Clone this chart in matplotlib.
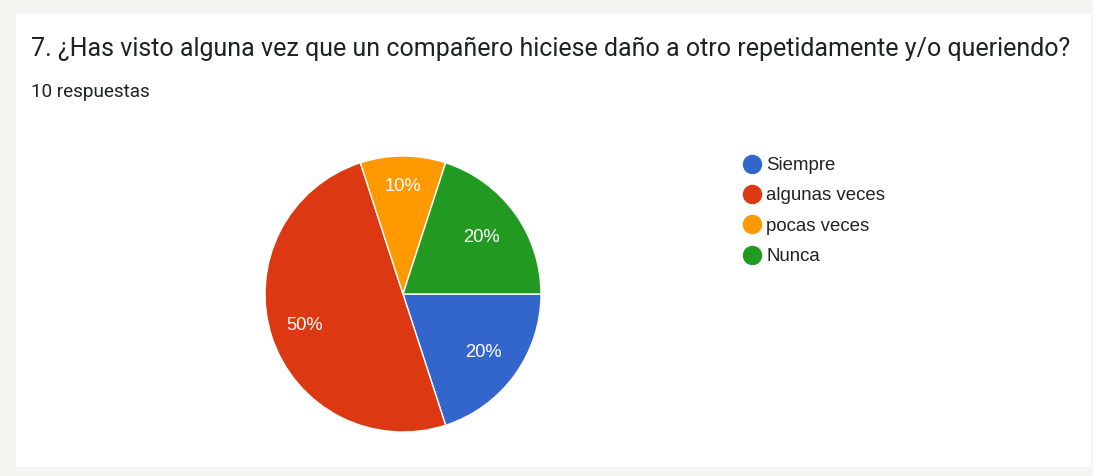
import matplotlib
matplotlib.use("Agg")
import matplotlib.pyplot as plt
from matplotlib.patches import Rectangle
from matplotlib.lines import Line2D
import numpy as np

title = "7. ¿Has visto alguna vez que un compañero hiciese daño a otro repetidamente y/o queriendo?"
subtitle = "10 respuestas"
categories = ["Siempre", "algunas veces", "pocas veces", "Nunca"]
values = [2, 5, 1, 2]
colors = ["#3366CC", "#DC3912", "#FF9900", "#229A22"]
label_dist = [0.72, 0.75, 0.78, 0.70]

W, H = 1093, 476
fig = plt.figure(figsize=(W / 100, H / 100), dpi=100)
fig.patch.set_facecolor("#F5F4F0")

# white card
card = Rectangle((16 / W, 1 - 467 / H), (1091 - 16) / W, (467 - 14) / H,
                 transform=fig.transFigure, facecolor="white", edgecolor="none", zorder=-5)
fig.patches.append(card)

fig.text(31 / W, 1 - 49 / H, title, fontsize=18.0, family=["Roboto", "DejaVu Sans"],
         color="#202124", va="center", ha="left")
fig.text(31 / W, 1 - 92 / H, subtitle, fontsize=13.6, family=["Roboto", "DejaVu Sans"],
         color="#202124", va="center", ha="left")

cx, cy, r = 403, 294, 138
ax = fig.add_axes([(cx - r) / W, 1 - (cy + r) / H, 2 * r / W, 2 * r / H])
ax.set_zorder(3)
wedges, texts, autotexts = ax.pie(
    values, colors=colors, startangle=0, counterclock=False,
    autopct=lambda p: f"{p:.0f}%", pctdistance=0.72, radius=1.0,
    wedgeprops=dict(edgecolor="white", linewidth=1.0),
    textprops=dict(color="white", fontsize=13.2, family=["Liberation Sans", "DejaVu Sans"]),
)
for w, t, d in zip(wedges, autotexts, label_dist):
    mid = np.deg2rad((w.theta1 + w.theta2) / 2)
    t.set_position((d * np.cos(mid), d * np.sin(mid)))
    t.set_ha("center"); t.set_va("center")
ax.set_xlim(-1, 1); ax.set_ylim(-1, 1)
ax.set_aspect("equal")
ax.axis("off")

handles = [Line2D([0], [0], marker="o", linestyle="none", markersize=13,
                  markerfacecolor=c, markeredgecolor=c) for c in colors]
leg = fig.legend(handles, categories, loc="upper left",
                 bbox_to_anchor=(743 / W, 1 - 157 / H), frameon=False,
                 prop=dict(family=["Liberation Sans", "DejaVu Sans"], size=13.4),
                 labelcolor="#222222", handletextpad=0.25, labelspacing=0.72,
                 handlelength=1.0, borderaxespad=0, borderpad=0)
leg.set_zorder(3)

fig.savefig("out.png", dpi=100, facecolor=fig.get_facecolor())
